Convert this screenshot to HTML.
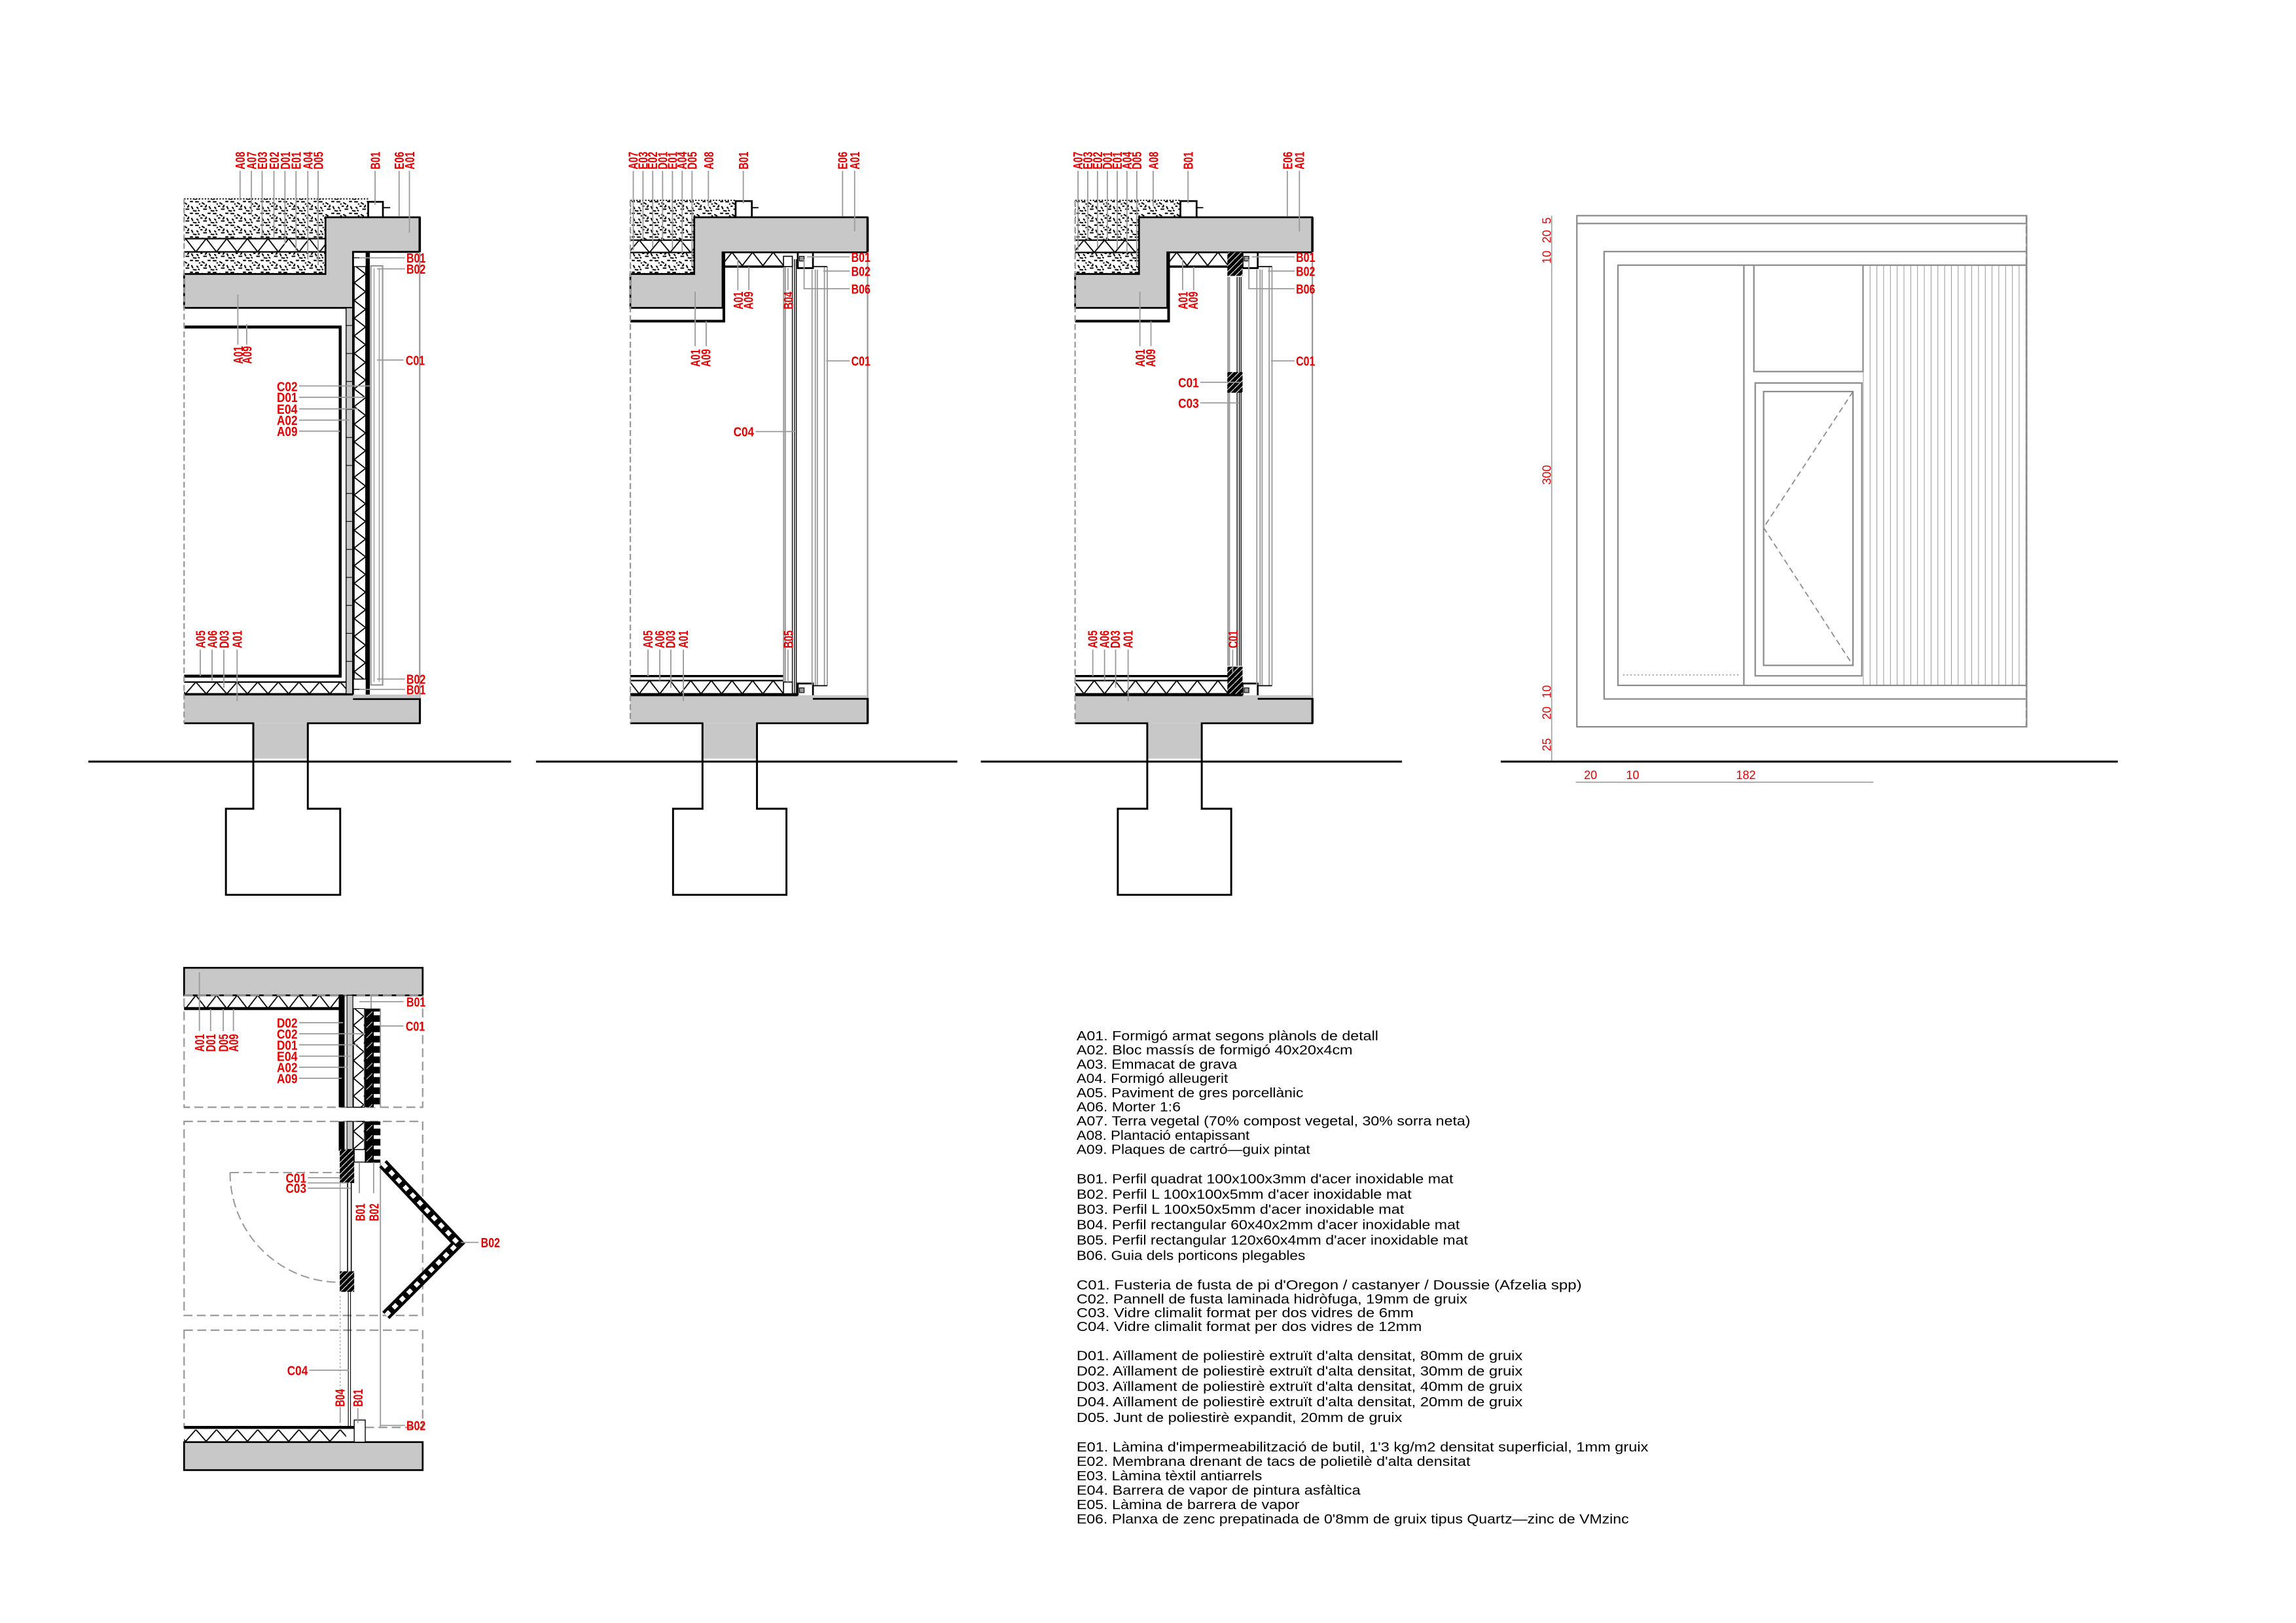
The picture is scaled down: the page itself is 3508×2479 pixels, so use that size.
<!DOCTYPE html>
<html><head><meta charset="utf-8"><style>
html,body{margin:0;padding:0;background:#fff;}
svg{display:block;}
.l{font-family:"Liberation Sans",sans-serif;font-weight:bold;font-size:9px;fill:#e60000;}
.d{font-family:"Liberation Sans",sans-serif;font-size:8px;fill:#e60000;}
.g{font-family:"Liberation Sans",sans-serif;font-size:9px;fill:#000;}
.ld{stroke:#9a9a9a;stroke-width:0.8;fill:none;}
.k{stroke:#000;fill:none;}
.gr{stroke:#8c8c8c;fill:none;stroke-width:1;}
</style></head><body>
<svg width="3508" height="2479" viewBox="0 0 1559 1101.8" preserveAspectRatio="none" xmlns="http://www.w3.org/2000/svg">
<defs>
<pattern id="grv" width="12" height="8" patternUnits="userSpaceOnUse">
<rect width="12" height="8" fill="#fff"/>
<path d="M0.5 1h2.5M5 1.5l2 1.2M9 0.8h2M1.5 4.5l1.2 1.2M6 6h2.5M10 4l1 2M0 7.2h1.5M4 4h1.5M8 3v1.5M3 2.5h1M7 4.5h1M11 7h1M2.5 6.5l1 0.8" stroke="#000" stroke-width="0.9"/>
</pattern>
<pattern id="zh1" width="14" height="9" patternUnits="userSpaceOnUse" patternTransform="translate(0,162)"><path d="M0 0L7 9L14 0" fill="none" stroke="#000" stroke-width="0.8"/></pattern>
<pattern id="zh2" width="14" height="8" patternUnits="userSpaceOnUse" patternTransform="translate(0,463)"><path d="M0 8L7 0L14 8" fill="none" stroke="#000" stroke-width="0.8"/></pattern>
<pattern id="zh3" width="14" height="8.4" patternUnits="userSpaceOnUse" patternTransform="translate(0,163)"><path d="M0 0L7 8.4L14 0" fill="none" stroke="#000" stroke-width="0.8"/></pattern>
<pattern id="zh4" width="14" height="9" patternUnits="userSpaceOnUse" patternTransform="translate(0,171.3)"><path d="M0 9L7 0L14 9" fill="none" stroke="#000" stroke-width="0.8"/></pattern>
<pattern id="zh5" width="14" height="9" patternUnits="userSpaceOnUse" patternTransform="translate(0,462)"><path d="M0 9L7 0L14 9" fill="none" stroke="#000" stroke-width="0.8"/></pattern>
<pattern id="zh6" width="14" height="9" patternUnits="userSpaceOnUse" patternTransform="translate(0,675.7)"><path d="M0 9L7 0L14 9" fill="none" stroke="#000" stroke-width="0.8"/></pattern>
<pattern id="zh7" width="14" height="8" patternUnits="userSpaceOnUse" patternTransform="translate(0,970.5)"><path d="M0 8L7 0L14 8" fill="none" stroke="#000" stroke-width="0.8"/></pattern>
<pattern id="zv1" width="7.7" height="12" patternUnits="userSpaceOnUse" patternTransform="translate(240.5,0)"><path d="M0 0L7.7 6L0 12" fill="none" stroke="#000" stroke-width="0.8"/></pattern>
<pattern id="zv2" width="7" height="12" patternUnits="userSpaceOnUse" patternTransform="translate(240,0)"><path d="M0 0L7 6L0 12" fill="none" stroke="#000" stroke-width="0.8"/></pattern>
<pattern id="hat" width="4" height="4" patternUnits="userSpaceOnUse"><rect width="4" height="4" fill="#000"/><path d="M0 4L4 0" stroke="#fff" stroke-width="0.5"/></pattern>
<pattern id="notch" width="11" height="7" patternUnits="userSpaceOnUse" patternTransform="translate(247.8,684.7)"><rect width="11" height="7" fill="#000"/><rect x="6" y="2" width="5" height="2.5" fill="#fff"/><path d="M1 6L5 2" stroke="#fff" stroke-width="0.4"/></pattern>
<pattern id="strp" width="4.6" height="10" patternUnits="userSpaceOnUse" patternTransform="translate(1265,0)"><path d="M0 0V10" stroke="#8c8c8c" stroke-width="0.8"/></pattern>
</defs>

<!-- ============ SECTION 1 ============ -->
<g>
<rect x="125" y="135" width="125" height="27" fill="url(#grv)"/>
<rect x="125" y="162" width="96" height="9" fill="url(#zh1)"/>
<rect x="125" y="171" width="96" height="15" fill="url(#grv)"/>
<path d="M125 162H221M125 171H221" class="k" stroke-width="1"/>
<path d="M125 135H250" stroke="#000" stroke-width="0.8" stroke-dasharray="1,1"/>
<rect x="250" y="137" width="10" height="10.5" fill="#fff" stroke="#000" stroke-width="1.2"/>
<path d="M260 141H265" class="k" stroke-width="0.8"/>
<path d="M125 186H221V147.5H285V171H239.7V209H125Z" fill="#c8c8c8" stroke="#000" stroke-width="1.2"/>
<path d="M125 222H231V459H125" class="k" stroke-width="2"/>
<rect x="235" y="209" width="4.7" height="262" fill="#c8c8c8" stroke="#000" stroke-width="0.6"/>
<path d="M235 221h4.7M235 240h4.7M235 259h4.7M235 278h4.7M235 297h4.7M235 316h4.7M235 335h4.7M235 354h4.7M235 373h4.7M235 392h4.7M235 411h4.7M235 430h4.7M235 449h4.7" stroke="#000" stroke-width="0.5"/>
<rect x="240.5" y="181" width="7.8" height="280" fill="url(#zv1)" stroke="#000" stroke-width="0.6"/>
<rect x="248.3" y="171" width="2.8" height="303" fill="#000"/>
<rect x="251.8" y="180.5" width="8" height="284.5" fill="#fff" stroke="#999" stroke-width="1"/>
<path d="M254 182V463M257.5 182V463" stroke="#999" stroke-width="0.6"/>
<path d="M239.7 171V474.6H285M239.7 171H285" class="k" stroke-width="1.2"/>
<path d="M239.7 175H248M239.7 468H248" class="k" stroke-width="0.6"/>
<path d="M285 171V474" stroke="#999" stroke-width="1"/>
<path d="M285 147.5V171M285 474V491" stroke="#000" stroke-width="1.6"/>
<rect x="125" y="463" width="110" height="8" fill="url(#zh2)"/>
<path d="M125 463H235M125 471H235" class="k" stroke-width="1"/>
<rect x="125" y="471.5" width="160" height="19.5" fill="#c8c8c8"/>
<path d="M125 471.5H239.7M239.7 474.6H285V491H209V515M172 515V491H125" class="k" stroke-width="1.2"/>
<rect x="172" y="491" width="37" height="24" fill="#c8c8c8"/>
<path d="M172 491V549H153.4V607.5H231V549H209V491" class="k" stroke-width="1.3"/>
<path d="M125 135V491" stroke="#999" stroke-width="1" stroke-dasharray="4,2"/>
<path d="M60 517H347" stroke="#000" stroke-width="1.3"/>
<!-- top leaders -->
<path class="ld" d="M163 116V136M170.7 116V145M178 116V160M186 116V161M193.5 116V166M201 116V170M209 116V176M216 116V180M254.7 116V139M271 116V147M278 116V158"/>
<text class="l" transform="translate(166.3,115) rotate(-90)" textLength="12" lengthAdjust="spacingAndGlyphs">A08</text>
<text class="l" transform="translate(174,115) rotate(-90)" textLength="12" lengthAdjust="spacingAndGlyphs">A07</text>
<text class="l" transform="translate(181.3,115) rotate(-90)" textLength="12" lengthAdjust="spacingAndGlyphs">E03</text>
<text class="l" transform="translate(189.3,115) rotate(-90)" textLength="12" lengthAdjust="spacingAndGlyphs">E02</text>
<text class="l" transform="translate(196.8,115) rotate(-90)" textLength="12" lengthAdjust="spacingAndGlyphs">D01</text>
<text class="l" transform="translate(204.3,115) rotate(-90)" textLength="12" lengthAdjust="spacingAndGlyphs">E01</text>
<text class="l" transform="translate(212.3,115) rotate(-90)" textLength="12" lengthAdjust="spacingAndGlyphs">A04</text>
<text class="l" transform="translate(219.3,115) rotate(-90)" textLength="12" lengthAdjust="spacingAndGlyphs">D05</text>
<text class="l" transform="translate(258,115) rotate(-90)" textLength="12" lengthAdjust="spacingAndGlyphs">B01</text>
<text class="l" transform="translate(274.3,115) rotate(-90)" textLength="12" lengthAdjust="spacingAndGlyphs">E06</text>
<text class="l" transform="translate(281.3,115) rotate(-90)" textLength="12" lengthAdjust="spacingAndGlyphs">A01</text>
<!-- A01 A09 -->
<path class="ld" d="M161.5 200V234M167.5 220V234"/>
<text class="l" transform="translate(164.8,247) rotate(-90)" textLength="12" lengthAdjust="spacingAndGlyphs">A01</text>
<text class="l" transform="translate(170.8,247) rotate(-90)" textLength="12" lengthAdjust="spacingAndGlyphs">A09</text>
<!-- wall labels -->
<path class="ld" d="M203 262H251M203 269.7H248M203 277.6H243M203 285.2H237M203 292.7H231"/>
<text class="l" x="202" y="265.5" text-anchor="end" textLength="14" lengthAdjust="spacingAndGlyphs">C02</text>
<text class="l" x="202" y="273" text-anchor="end" textLength="14" lengthAdjust="spacingAndGlyphs">D01</text>
<text class="l" x="202" y="281" text-anchor="end" textLength="14" lengthAdjust="spacingAndGlyphs">E04</text>
<text class="l" x="202" y="288.5" text-anchor="end" textLength="14" lengthAdjust="spacingAndGlyphs">A02</text>
<text class="l" x="202" y="296" text-anchor="end" textLength="14" lengthAdjust="spacingAndGlyphs">A09</text>
<path class="ld" d="M244 175H275M256 182.5H275M256 244.4H274M256 461H275M244 468H275"/>
<text class="l" x="276" y="178.3" textLength="13" lengthAdjust="spacingAndGlyphs">B01</text>
<text class="l" x="276" y="185.8" textLength="13" lengthAdjust="spacingAndGlyphs">B02</text>
<text class="l" x="275.5" y="247.7" textLength="13" lengthAdjust="spacingAndGlyphs">C01</text>
<text class="l" x="276" y="464.3" textLength="13" lengthAdjust="spacingAndGlyphs">B02</text>
<text class="l" x="276" y="471.3" textLength="13" lengthAdjust="spacingAndGlyphs">B01</text>
<path class="ld" d="M136 441V459M144 441V462M152 441V467M161 441V476"/>
<text class="l" transform="translate(139.3,440) rotate(-90)" textLength="12" lengthAdjust="spacingAndGlyphs">A05</text>
<text class="l" transform="translate(147.3,440) rotate(-90)" textLength="12" lengthAdjust="spacingAndGlyphs">A06</text>
<text class="l" transform="translate(155.3,440) rotate(-90)" textLength="12" lengthAdjust="spacingAndGlyphs">D03</text>
<text class="l" transform="translate(164.3,440) rotate(-90)" textLength="12" lengthAdjust="spacingAndGlyphs">A01</text>
</g>

<!-- ============ SECTION 2 ============ -->
<g>
<rect x="428" y="136" width="43.4" height="27" fill="url(#grv)"/>
<rect x="471" y="136" width="28.5" height="12" fill="url(#grv)"/>
<rect x="428" y="163" width="43.4" height="8.4" fill="url(#zh3)"/>
<rect x="428" y="171.4" width="43.4" height="14.6" fill="url(#grv)"/>
<path d="M428 163H471M428 171.4H471" class="k" stroke-width="1"/>
<path d="M428 136H499" stroke="#000" stroke-width="0.8" stroke-dasharray="1,1"/>
<rect x="499.5" y="136.5" width="11" height="11" fill="#fff" stroke="#000" stroke-width="1.2"/>
<path d="M510.5 141H515" class="k" stroke-width="0.8"/>
<path d="M428 186H471.4V147.5H589V171.3H490.6V209H428Z" fill="#c8c8c8" stroke="#000" stroke-width="1.2"/>
<path d="M428 218H491.5V171.3" class="k" stroke-width="1.8"/>
<rect x="491.5" y="171.3" width="40.5" height="9" fill="url(#zh4)"/>
<path d="M491.5 181H532" class="k" stroke-width="1.5"/>
<path d="M541.7 171.3V182H552V171.3M541.7 474.4V464H552V474.4" class="k" stroke-width="1.2"/>
<rect x="542.8" y="174" width="3.2" height="3.2" fill="#999" stroke="#000" stroke-width="0.5"/>
<rect x="542.8" y="467" width="3.2" height="3.2" fill="#999" stroke="#000" stroke-width="0.5"/>
<path d="M551.4 183V465.5M553.6 183V465M555 183V465M559.8 181V465.5M561.7 181V465.5" stroke="#999" stroke-width="0.8"/>
<path d="M552 181H561.7M552 465.5H561.7" class="k" stroke-width="0.8"/>
<path d="M589.1 171V474" stroke="#999" stroke-width="1"/>
<path d="M589.1 147.5V171M589.1 474V491" stroke="#000" stroke-width="1.6"/>
<path d="M428 459H532" class="k" stroke-width="1.5"/>
<rect x="428" y="462" width="104" height="9" fill="url(#zh5)"/>
<path d="M428 462H532M428 471H541.7" class="k" stroke-width="1"/>
<rect x="428" y="472" width="161" height="19" fill="#c8c8c8"/>
<path d="M428 472H541.7M552 474.4H589V491H514V515M477 515V491H428" class="k" stroke-width="1.2"/>
<rect x="477" y="491" width="37" height="24" fill="#c8c8c8"/>
<path d="M477 491V549H457V607.5H534V549H514V491" class="k" stroke-width="1.3"/>
<path d="M428 136V491" stroke="#999" stroke-width="1" stroke-dasharray="4,2"/>
<path d="M364 517H650" stroke="#000" stroke-width="1.3"/>
<!-- wall S2 -->
<path d="M532.1 180V471M533.2 180V471" stroke="#999" stroke-width="0.9"/>
<path d="M538 176V471M539.5 176V471M540.7 176V471" stroke="#000" stroke-width="0.6"/>
<rect x="532" y="174" width="6" height="7" fill="#fff" stroke="#000" stroke-width="0.7"/>
<rect x="532" y="463" width="6" height="8" fill="#fff" stroke="#000" stroke-width="0.7"/>
<!-- labels S2 -->
<path class="ld" d="M430 116V170M436.6 116V163M443.2 116V168M449.9 116V163M456.6 116V169M463.2 116V172M469.9 116V180M481 116V140M504.7 116V138M572.1 116V147M580.3 116V157"/>
<text class="l" transform="translate(433,115) rotate(-90)" textLength="12" lengthAdjust="spacingAndGlyphs">A07</text>
<text class="l" transform="translate(439.7,115) rotate(-90)" textLength="12" lengthAdjust="spacingAndGlyphs">E03</text>
<text class="l" transform="translate(446.3,115) rotate(-90)" textLength="12" lengthAdjust="spacingAndGlyphs">E02</text>
<text class="l" transform="translate(453,115) rotate(-90)" textLength="12" lengthAdjust="spacingAndGlyphs">D01</text>
<text class="l" transform="translate(459.7,115) rotate(-90)" textLength="12" lengthAdjust="spacingAndGlyphs">E01</text>
<text class="l" transform="translate(466.3,115) rotate(-90)" textLength="12" lengthAdjust="spacingAndGlyphs">A04</text>
<text class="l" transform="translate(473,115) rotate(-90)" textLength="12" lengthAdjust="spacingAndGlyphs">D05</text>
<text class="l" transform="translate(484.3,115) rotate(-90)" textLength="12" lengthAdjust="spacingAndGlyphs">A08</text>
<text class="l" transform="translate(508,115) rotate(-90)" textLength="12" lengthAdjust="spacingAndGlyphs">B01</text>
<text class="l" transform="translate(575.4,115) rotate(-90)" textLength="12" lengthAdjust="spacingAndGlyphs">E06</text>
<text class="l" transform="translate(583.6,115) rotate(-90)" textLength="12" lengthAdjust="spacingAndGlyphs">A01</text>
<path class="ld" d="M501 176V197M508.5 181V197M472 198V235M479.5 218V235M535 182V197M535 441V463"/>
<text class="l" transform="translate(504.3,210) rotate(-90)" textLength="12" lengthAdjust="spacingAndGlyphs">A01</text>
<text class="l" transform="translate(511.3,210) rotate(-90)" textLength="12" lengthAdjust="spacingAndGlyphs">A09</text>
<text class="l" transform="translate(475.3,249) rotate(-90)" textLength="12" lengthAdjust="spacingAndGlyphs">A01</text>
<text class="l" transform="translate(482.3,249) rotate(-90)" textLength="12" lengthAdjust="spacingAndGlyphs">A09</text>
<text class="l" transform="translate(538.3,210) rotate(-90)" textLength="12" lengthAdjust="spacingAndGlyphs">B04</text>
<text class="l" transform="translate(538.3,440) rotate(-90)" textLength="12" lengthAdjust="spacingAndGlyphs">B05</text>
<path class="ld" d="M548 174.4H577M559 184H577M546 176V196H577M561 245H577M513 293H540"/>
<text class="l" x="578" y="177.7" textLength="13" lengthAdjust="spacingAndGlyphs">B01</text>
<text class="l" x="578" y="187.3" textLength="13" lengthAdjust="spacingAndGlyphs">B02</text>
<text class="l" x="578" y="199.3" textLength="13" lengthAdjust="spacingAndGlyphs">B06</text>
<text class="l" x="578" y="248.3" textLength="13" lengthAdjust="spacingAndGlyphs">C01</text>
<text class="l" x="512" y="296.3" text-anchor="end" textLength="14" lengthAdjust="spacingAndGlyphs">C04</text>
<path class="ld" d="M440 441V459M448 441V462M455.5 441V467M464 441V476"/>
<text class="l" transform="translate(443,440) rotate(-90)" textLength="12" lengthAdjust="spacingAndGlyphs">A05</text>
<text class="l" transform="translate(451,440) rotate(-90)" textLength="12" lengthAdjust="spacingAndGlyphs">A06</text>
<text class="l" transform="translate(458.5,440) rotate(-90)" textLength="12" lengthAdjust="spacingAndGlyphs">D03</text>
<text class="l" transform="translate(467,440) rotate(-90)" textLength="12" lengthAdjust="spacingAndGlyphs">A01</text>
</g>

<!-- ============ SECTION 3 ============ -->
<g transform="translate(302,0)">
<rect x="428" y="136" width="43.4" height="27" fill="url(#grv)"/>
<rect x="471" y="136" width="28.5" height="12" fill="url(#grv)"/>
<rect x="428" y="163" width="43.4" height="8.4" fill="url(#zh3)"/>
<rect x="428" y="171.4" width="43.4" height="14.6" fill="url(#grv)"/>
<path d="M428 163H471M428 171.4H471" class="k" stroke-width="1"/>
<path d="M428 136H499" stroke="#000" stroke-width="0.8" stroke-dasharray="1,1"/>
<rect x="499.5" y="136.5" width="11" height="11" fill="#fff" stroke="#000" stroke-width="1.2"/>
<path d="M510.5 141H515" class="k" stroke-width="0.8"/>
<path d="M428 186H471.4V147.5H589V171.3H490.6V209H428Z" fill="#c8c8c8" stroke="#000" stroke-width="1.2"/>
<path d="M428 218H491.5V171.3" class="k" stroke-width="1.8"/>
<rect x="491.5" y="171.3" width="40.5" height="9" fill="url(#zh4)"/>
<path d="M491.5 181H532" class="k" stroke-width="1.5"/>
<path d="M541.7 171.3V182H552V171.3M541.7 474.4V464H552V474.4" class="k" stroke-width="1.2"/>
<rect x="542.8" y="174" width="3.2" height="3.2" fill="#999" stroke="#000" stroke-width="0.5"/>
<rect x="542.8" y="467" width="3.2" height="3.2" fill="#999" stroke="#000" stroke-width="0.5"/>
<path d="M551.4 183V465.5M553.6 183V465M555 183V465M559.8 181V465.5M561.7 181V465.5" stroke="#999" stroke-width="0.8"/>
<path d="M552 181H561.7M552 465.5H561.7" class="k" stroke-width="0.8"/>
<path d="M589.1 171V474" stroke="#999" stroke-width="1"/>
<path d="M589.1 147.5V171M589.1 474V491" stroke="#000" stroke-width="1.6"/>
<path d="M428 459H532" class="k" stroke-width="1.5"/>
<rect x="428" y="462" width="104" height="9" fill="url(#zh5)"/>
<path d="M428 462H532M428 471H541.7" class="k" stroke-width="1"/>
<rect x="428" y="472" width="161" height="19" fill="#c8c8c8"/>
<path d="M428 472H541.7M552 474.4H589V491H514V515M477 515V491H428" class="k" stroke-width="1.2"/>
<rect x="477" y="491" width="37" height="24" fill="#c8c8c8"/>
<path d="M477 491V549H457V607.5H534V549H514V491" class="k" stroke-width="1.3"/>
<path d="M428 136V491" stroke="#999" stroke-width="1" stroke-dasharray="4,2"/>
<path d="M364 517H650" stroke="#000" stroke-width="1.3"/>
<!-- wall S3 -->
<path d="M531.8 188V452M532.8 188V452" stroke="#999" stroke-width="0.9"/>
<path d="M538 188V452M539.5 188V452M540.7 188V452" stroke="#000" stroke-width="0.6"/>
<rect x="531.4" y="171.3" width="10.3" height="16" fill="url(#hat)"/>
<rect x="531.4" y="252.6" width="10.3" height="14" fill="url(#hat)"/>
<rect x="531.4" y="452.6" width="10.3" height="18.4" fill="url(#hat)"/>
<!-- labels S3 -->
<path class="ld" d="M430 116V170M436.6 116V163M443.2 116V168M449.9 116V163M456.6 116V169M463.2 116V172M469.9 116V180M481 116V140M504.7 116V138M572.1 116V147M580.3 116V157"/>
<text class="l" transform="translate(433,115) rotate(-90)" textLength="12" lengthAdjust="spacingAndGlyphs">A07</text>
<text class="l" transform="translate(439.7,115) rotate(-90)" textLength="12" lengthAdjust="spacingAndGlyphs">E03</text>
<text class="l" transform="translate(446.3,115) rotate(-90)" textLength="12" lengthAdjust="spacingAndGlyphs">E02</text>
<text class="l" transform="translate(453,115) rotate(-90)" textLength="12" lengthAdjust="spacingAndGlyphs">D01</text>
<text class="l" transform="translate(459.7,115) rotate(-90)" textLength="12" lengthAdjust="spacingAndGlyphs">E01</text>
<text class="l" transform="translate(466.3,115) rotate(-90)" textLength="12" lengthAdjust="spacingAndGlyphs">A04</text>
<text class="l" transform="translate(473,115) rotate(-90)" textLength="12" lengthAdjust="spacingAndGlyphs">D05</text>
<text class="l" transform="translate(484.3,115) rotate(-90)" textLength="12" lengthAdjust="spacingAndGlyphs">A08</text>
<text class="l" transform="translate(508,115) rotate(-90)" textLength="12" lengthAdjust="spacingAndGlyphs">B01</text>
<text class="l" transform="translate(575.4,115) rotate(-90)" textLength="12" lengthAdjust="spacingAndGlyphs">E06</text>
<text class="l" transform="translate(583.6,115) rotate(-90)" textLength="12" lengthAdjust="spacingAndGlyphs">A01</text>
<path class="ld" d="M501 176V197M508.5 181V197M472 198V235M479.5 218V235M535 441V457"/>
<text class="l" transform="translate(504.3,210) rotate(-90)" textLength="12" lengthAdjust="spacingAndGlyphs">A01</text>
<text class="l" transform="translate(511.3,210) rotate(-90)" textLength="12" lengthAdjust="spacingAndGlyphs">A09</text>
<text class="l" transform="translate(475.3,249) rotate(-90)" textLength="12" lengthAdjust="spacingAndGlyphs">A01</text>
<text class="l" transform="translate(482.3,249) rotate(-90)" textLength="12" lengthAdjust="spacingAndGlyphs">A09</text>
<text class="l" transform="translate(538.3,440) rotate(-90)" textLength="12" lengthAdjust="spacingAndGlyphs">C01</text>
<path class="ld" d="M548 174.4H577M559 184H577M546 176V196H577M561 245H577M513 259.5H540M513 273.5H539"/>
<text class="l" x="578" y="177.7" textLength="13" lengthAdjust="spacingAndGlyphs">B01</text>
<text class="l" x="578" y="187.3" textLength="13" lengthAdjust="spacingAndGlyphs">B02</text>
<text class="l" x="578" y="199.3" textLength="13" lengthAdjust="spacingAndGlyphs">B06</text>
<text class="l" x="578" y="248.3" textLength="13" lengthAdjust="spacingAndGlyphs">C01</text>
<text class="l" x="512" y="262.8" text-anchor="end" textLength="14" lengthAdjust="spacingAndGlyphs">C01</text>
<text class="l" x="512" y="276.8" text-anchor="end" textLength="14" lengthAdjust="spacingAndGlyphs">C03</text>
<path class="ld" d="M440 441V459M448 441V462M455.5 441V467M464 441V476"/>
<text class="l" transform="translate(443,440) rotate(-90)" textLength="12" lengthAdjust="spacingAndGlyphs">A05</text>
<text class="l" transform="translate(451,440) rotate(-90)" textLength="12" lengthAdjust="spacingAndGlyphs">A06</text>
<text class="l" transform="translate(458.5,440) rotate(-90)" textLength="12" lengthAdjust="spacingAndGlyphs">D03</text>
<text class="l" transform="translate(467,440) rotate(-90)" textLength="12" lengthAdjust="spacingAndGlyphs">A01</text>
</g>

<!-- ============ ELEVATION ============ -->
<g>
<rect x="1070.7" y="146.4" width="305.4" height="347" class="gr"/>
<path d="M1070.7 151.7H1376" class="gr"/>
<path d="M1376 170.8H1089.2V474.5H1376" class="gr"/>
<path d="M1376 180H1098.6V465.3H1376" class="gr"/>
<path d="M1184.1 180V465.3M1190.9 180V252.2H1265V180" class="gr"/>
<rect x="1191.8" y="260" width="72.4" height="198.8" class="gr"/>
<rect x="1197.5" y="265.8" width="60.7" height="185.9" class="gr" stroke-width="0.8"/>
<path d="M1258.2 265.8L1197.5 358.2L1258.2 451.7" fill="none" stroke="#8c8c8c" stroke-width="0.8" stroke-dasharray="4,2.5"/>
<rect x="1265" y="180" width="111" height="285.3" fill="url(#strp)"/>
<path d="M1376 146.4V493.4" stroke="#8c8c8c" stroke-width="1.2" stroke-dasharray="5,2" fill="none"/>
<path d="M1102 458.2H1181.8" stroke="#8c8c8c" stroke-width="0.6" stroke-dasharray="1,1.5"/>
<path d="M1053.6 146.4V517" stroke="#a0a0a0" stroke-width="0.7"/>
<path d="M1019 517H1438" stroke="#000" stroke-width="1.3"/>
<text class="d" transform="translate(1053,152) rotate(-90)">5</text>
<text class="d" transform="translate(1053,165) rotate(-90)">20</text>
<text class="d" transform="translate(1053,179) rotate(-90)">10</text>
<text class="d" transform="translate(1053,329) rotate(-90)">300</text>
<text class="d" transform="translate(1053,474) rotate(-90)">10</text>
<text class="d" transform="translate(1053,488.5) rotate(-90)">20</text>
<text class="d" transform="translate(1053,510) rotate(-90)">25</text>
<text class="d" x="1080" y="529" text-anchor="middle">20</text>
<text class="d" x="1108.6" y="529" text-anchor="middle">10</text>
<text class="d" x="1185.5" y="529" text-anchor="middle">182</text>
<path d="M1070 531H1272" stroke="#a0a0a0" stroke-width="0.8"/>
</g>

<!-- ============ PLAN ============ -->
<g>
<rect x="125" y="657" width="162" height="18.7" fill="#c8c8c8" stroke="#000" stroke-width="1.2"/>
<rect x="125" y="675.7" width="105" height="9" fill="url(#zh6)"/>
<path d="M125 684.7H232" class="k" stroke-width="2"/>
<rect x="125" y="675.7" width="162" height="76" fill="none" stroke="#9a9a9a" stroke-width="1" stroke-dasharray="6,3"/>
<rect x="125" y="761.3" width="162" height="131.7" fill="none" stroke="#9a9a9a" stroke-width="1" stroke-dasharray="6,3"/>
<rect x="125" y="903" width="162" height="66" fill="none" stroke="#9a9a9a" stroke-width="1" stroke-dasharray="6,3"/>
<rect x="230" y="675.7" width="4" height="76" fill="#000"/>
<rect x="230" y="761.3" width="4" height="20" fill="#000"/>
<rect x="235.6" y="675.7" width="4" height="76" fill="#c8c8c8" stroke="#000" stroke-width="0.5"/>
<rect x="235.6" y="761.3" width="4" height="19" fill="#c8c8c8" stroke="#000" stroke-width="0.5"/>
<rect x="240" y="684.7" width="7.5" height="67" fill="url(#zv2)" stroke="#000" stroke-width="0.5"/>
<rect x="240" y="761.3" width="7.5" height="19" fill="url(#zv2)" stroke="#000" stroke-width="0.5"/>
<rect x="247.8" y="684.7" width="10.5" height="67" fill="url(#notch)"/>
<rect x="247.8" y="761.3" width="10.5" height="28" fill="url(#notch)"/>
<path d="M252 675.7V684.7M258.3 684.7V751.8M258.3 789V969" stroke="#999" stroke-width="0.8"/>
<rect x="230.7" y="780.4" width="9.8" height="22.7" fill="url(#hat)"/>
<rect x="230.7" y="863" width="9.8" height="14" fill="url(#hat)"/>
<rect x="240.5" y="780.4" width="7.5" height="8.5" fill="#fff" stroke="#000" stroke-width="0.6"/>
<path d="M236 803V863M238.5 803V863" class="k" stroke-width="0.7"/>
<path d="M231 803V863" stroke="#999" stroke-width="0.6"/>
<path d="M236.5 877V969M238 877V969" class="k" stroke-width="0.5"/>
<path d="M231 880V969" stroke="#999" stroke-width="0.6" stroke-dasharray="1,1.5"/>
<path d="M156.2 796H230.7M156.2 796A74.5 74.5 0 0 0 230.7 870.5" fill="none" stroke="#9a9a9a" stroke-width="0.9" stroke-dasharray="6,3"/>
<path d="M260 790L311 844L262 893" fill="none" stroke="#000" stroke-width="7"/>
<path d="M260 790L311 844L262 893" fill="none" stroke="#fff" stroke-width="3" stroke-dasharray="3.5,3.5"/>
<path d="M313 843.4H325" class="ld"/>
<path d="M125 969H241" class="k" stroke-width="2"/>
<rect x="125" y="970.5" width="110" height="8" fill="url(#zh7)"/>
<rect x="125" y="979" width="162" height="19" fill="#c8c8c8" stroke="#000" stroke-width="1.2"/>
<rect x="240.5" y="964" width="7.5" height="15" fill="#fff" stroke="#000" stroke-width="0.6"/>
<!-- plan labels -->
<path class="ld" d="M244 680H274M258 696.5H274M203 694.3H233M203 701.8H248M203 709.3H243M203 717H238M203 724.5H236M203 732H232M209 799.5H231M209 803H236M209 806.6H238M210 930.2H237M244 810V789M253.7 810V789M231 956V966M243 956V966M258.3 967.7H275"/>
<path class="ld" d="M135.4 660V700M143 685V700M151.6 685V700M158.5 685V700"/>
<text class="l" x="276" y="683.3" textLength="13" lengthAdjust="spacingAndGlyphs">B01</text>
<text class="l" x="275.5" y="699.8" textLength="13" lengthAdjust="spacingAndGlyphs">C01</text>
<text class="l" x="326.5" y="846.7" textLength="13" lengthAdjust="spacingAndGlyphs">B02</text>
<text class="l" x="276" y="971" textLength="13" lengthAdjust="spacingAndGlyphs">B02</text>
<text class="l" x="202" y="697.6" text-anchor="end" textLength="14" lengthAdjust="spacingAndGlyphs">D02</text>
<text class="l" x="202" y="705.1" text-anchor="end" textLength="14" lengthAdjust="spacingAndGlyphs">C02</text>
<text class="l" x="202" y="712.6" text-anchor="end" textLength="14" lengthAdjust="spacingAndGlyphs">D01</text>
<text class="l" x="202" y="720.3" text-anchor="end" textLength="14" lengthAdjust="spacingAndGlyphs">E04</text>
<text class="l" x="202" y="727.8" text-anchor="end" textLength="14" lengthAdjust="spacingAndGlyphs">A02</text>
<text class="l" x="202" y="735.3" text-anchor="end" textLength="14" lengthAdjust="spacingAndGlyphs">A09</text>
<text class="l" x="208" y="802.8" text-anchor="end" textLength="14" lengthAdjust="spacingAndGlyphs">C01</text>
<text class="l" x="208" y="809.9" text-anchor="end" textLength="14" lengthAdjust="spacingAndGlyphs">C03</text>
<text class="l" x="209" y="933.5" text-anchor="end" textLength="14" lengthAdjust="spacingAndGlyphs">C04</text>
<text class="l" transform="translate(247.8,829) rotate(-90)" textLength="12" lengthAdjust="spacingAndGlyphs">B01</text>
<text class="l" transform="translate(257,829) rotate(-90)" textLength="12" lengthAdjust="spacingAndGlyphs">B02</text>
<text class="l" transform="translate(234,955) rotate(-90)" textLength="12" lengthAdjust="spacingAndGlyphs">B04</text>
<text class="l" transform="translate(246.3,955) rotate(-90)" textLength="12" lengthAdjust="spacingAndGlyphs">B01</text>
<text class="l" transform="translate(138.7,714) rotate(-90)" textLength="12" lengthAdjust="spacingAndGlyphs">A01</text>
<text class="l" transform="translate(146.3,714) rotate(-90)" textLength="12" lengthAdjust="spacingAndGlyphs">D01</text>
<text class="l" transform="translate(154.9,714) rotate(-90)" textLength="12" lengthAdjust="spacingAndGlyphs">D05</text>
<text class="l" transform="translate(161.8,714) rotate(-90)" textLength="12" lengthAdjust="spacingAndGlyphs">A09</text>
</g>

<!-- ============ LEGEND ============ -->
<g>
<text class="g" x="731" y="706.3" textLength="204.9" lengthAdjust="spacingAndGlyphs">A01. Formigó armat segons plànols de detall</text>
<text class="g" x="731" y="715.9" textLength="187.4" lengthAdjust="spacingAndGlyphs">A02. Bloc massís de formigó 40x20x4cm</text>
<text class="g" x="731" y="725.6" textLength="109" lengthAdjust="spacingAndGlyphs">A03. Emmacat de grava</text>
<text class="g" x="731" y="735.2" textLength="102.8" lengthAdjust="spacingAndGlyphs">A04. Formigó alleugerit</text>
<text class="g" x="731" y="744.8" textLength="154" lengthAdjust="spacingAndGlyphs">A05. Paviment de gres porcellànic</text>
<text class="g" x="731" y="754.5" textLength="70.7" lengthAdjust="spacingAndGlyphs">A06. Morter 1:6</text>
<text class="g" x="731" y="764.1" textLength="267.4" lengthAdjust="spacingAndGlyphs">A07. Terra vegetal (70% compost vegetal, 30% sorra neta)</text>
<text class="g" x="731" y="773.7" textLength="117.5" lengthAdjust="spacingAndGlyphs">A08. Plantació entapissant</text>
<text class="g" x="731" y="783.3" textLength="158.6" lengthAdjust="spacingAndGlyphs">A09. Plaques de cartró—guix pintat</text>

<text class="g" x="731" y="803.3" textLength="255.8" lengthAdjust="spacingAndGlyphs">B01. Perfil quadrat 100x100x3mm d'acer inoxidable mat</text>
<text class="g" x="731" y="813.7" textLength="227.5" lengthAdjust="spacingAndGlyphs">B02. Perfil L 100x100x5mm d'acer inoxidable mat</text>
<text class="g" x="731" y="824.1" textLength="222.4" lengthAdjust="spacingAndGlyphs">B03. Perfil L 100x50x5mm d'acer inoxidable mat</text>
<text class="g" x="731" y="834.5" textLength="260.2" lengthAdjust="spacingAndGlyphs">B04. Perfil rectangular 60x40x2mm d'acer inoxidable mat</text>
<text class="g" x="731" y="844.9" textLength="265.8" lengthAdjust="spacingAndGlyphs">B05. Perfil rectangular 120x60x4mm d'acer inoxidable mat</text>
<text class="g" x="731" y="855.3" textLength="155.3" lengthAdjust="spacingAndGlyphs">B06. Guia dels porticons plegables</text>

<text class="g" x="731" y="875.3" textLength="343" lengthAdjust="spacingAndGlyphs">C01. Fusteria de fusta de pi d'Oregon / castanyer / Doussie (Afzelia spp)</text>
<text class="g" x="731" y="885" textLength="265.3" lengthAdjust="spacingAndGlyphs">C02. Pannell de fusta laminada hidròfuga, 19mm de gruix</text>
<text class="g" x="731" y="894.3" textLength="228.8" lengthAdjust="spacingAndGlyphs">C03. Vidre climalit format per dos vidres de 6mm</text>
<text class="g" x="731" y="903.6" textLength="234.4" lengthAdjust="spacingAndGlyphs">C04. Vidre climalit format per dos vidres de 12mm</text>

<text class="g" x="731" y="923.3" textLength="302.8" lengthAdjust="spacingAndGlyphs">D01. Aïllament de poliestirè extruït d'alta densitat, 80mm de gruix</text>
<text class="g" x="731" y="933.8" textLength="302.8" lengthAdjust="spacingAndGlyphs">D02. Aïllament de poliestirè extruït d'alta densitat, 30mm de gruix</text>
<text class="g" x="731" y="944.3" textLength="302.8" lengthAdjust="spacingAndGlyphs">D03. Aïllament de poliestirè extruït d'alta densitat, 40mm de gruix</text>
<text class="g" x="731" y="954.8" textLength="302.8" lengthAdjust="spacingAndGlyphs">D04. Aïllament de poliestirè extruït d'alta densitat, 20mm de gruix</text>
<text class="g" x="731" y="965.3" textLength="221.1" lengthAdjust="spacingAndGlyphs">D05. Junt de poliestirè expandit, 20mm de gruix</text>

<text class="g" x="731" y="985.3" textLength="388.2" lengthAdjust="spacingAndGlyphs">E01. Làmina d'impermeabilització de butil, 1'3 kg/m2 densitat superficial, 1mm gruix</text>
<text class="g" x="731" y="995.1" textLength="267.4" lengthAdjust="spacingAndGlyphs">E02. Membrana drenant de tacs de polietilè d'alta densitat</text>
<text class="g" x="731" y="1004.9" textLength="126" lengthAdjust="spacingAndGlyphs">E03. Làmina tèxtil antiarrels</text>
<text class="g" x="731" y="1014.7" textLength="192.8" lengthAdjust="spacingAndGlyphs">E04. Barrera de vapor de pintura asfàltica</text>
<text class="g" x="731" y="1024.5" textLength="151.4" lengthAdjust="spacingAndGlyphs">E05. Làmina de barrera de vapor</text>
<text class="g" x="731" y="1034.3" textLength="375" lengthAdjust="spacingAndGlyphs">E06. Planxa de zenc prepatinada de 0'8mm de gruix tipus Quartz—zinc de VMzinc</text>
</g>
</svg>
</body></html>
